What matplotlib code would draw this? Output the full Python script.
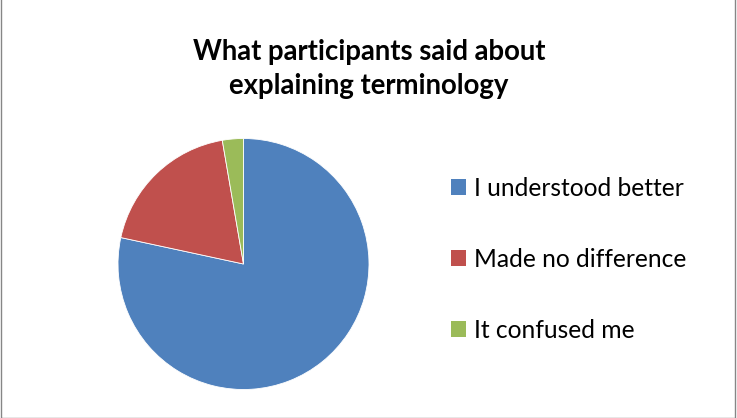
import matplotlib
matplotlib.use("Agg")
import matplotlib.pyplot as plt
from matplotlib.patches import Rectangle, Patch

plt.rcParams['font.family'] = ['Lato', 'DejaVu Sans']

title = "What participants said about\nexplaining terminology"
labels = ["I understood better", "Made no difference", "It confused me"]
counts = [29, 7, 1]
colors = ["#4F81BD", "#C0504D", "#9BBB59"]

W, H = 737, 418
fig = plt.figure(figsize=(W / 100, H / 100), dpi=100)

# chart area border
fig.patches.append(Rectangle((0.5 / W, 0.5 / H), (W - 3) / W, 1.2, transform=fig.transFigure,
                             fill=False, edgecolor="#868686", linewidth=1))

cx, cy, r = 243.5, 264, 125.5
ax = fig.add_axes([(cx - r) / W, (H - cy - r) / H, 2 * r / W, 2 * r / H])
ax.pie(counts, colors=colors, startangle=90, counterclock=False,
       wedgeprops=dict(edgecolor="white", linewidth=0.6))
ax.set_xlim(-1, 1)
ax.set_ylim(-1, 1)
ax.set_aspect("equal")
ax.axis("off")

fig.text(369 / W, 1 - 69 / H, title, ha="center", va="center", fontsize=19.8,
         fontweight="bold", linespacing=1.4)

handles = [Patch(facecolor=c, edgecolor="none") for c in colors]
fig.legend(handles, labels, loc="upper left", bbox_to_anchor=(451 / W, 1 - 177 / H),
           frameon=False, fontsize=17.7, handlelength=0.62, handleheight=0.62,
           handletextpad=0.3, labelspacing=1.95, borderpad=0, borderaxespad=0)

fig.savefig("out.png", dpi=100)
